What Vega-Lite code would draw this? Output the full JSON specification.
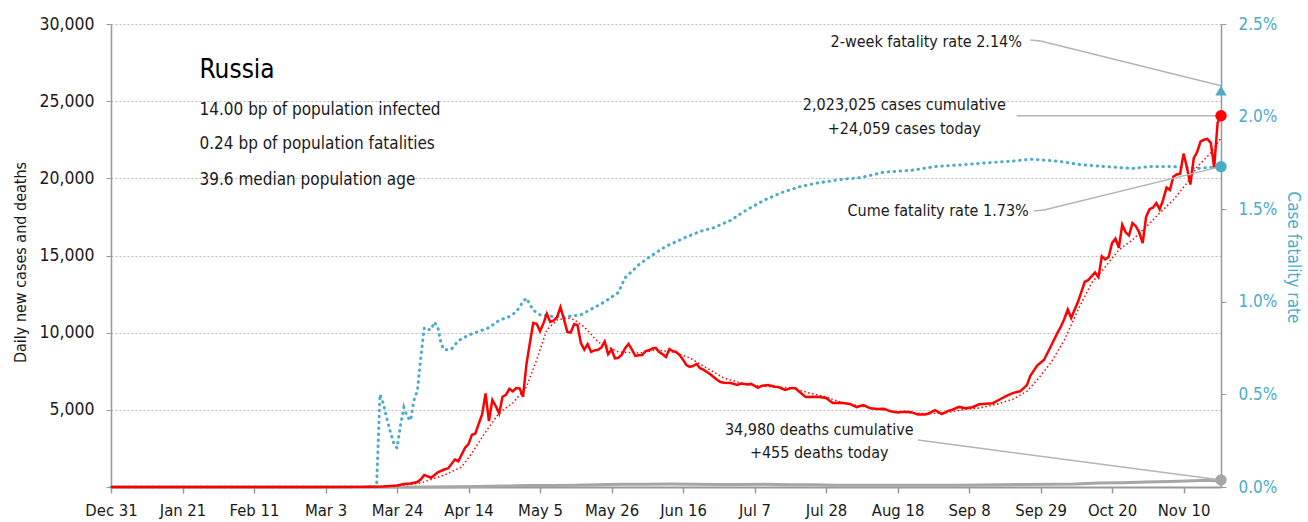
{
  "$schema": "https://vega.github.io/schema/vega-lite/v6.json",
  "width": 1110,
  "height": 463,
  "autosize": "none",
  "padding": {"left": 111, "top": 24, "right": 87, "bottom": 35},
  "background": "white",
  "config": {
    "font": "DejaVu Sans Condensed, sans-serif",
    "view": {"stroke": null},
    "axis": {"labelFont": "DejaVu Sans Condensed, sans-serif", "titleFont": "DejaVu Sans Condensed, sans-serif"}
  },
  "datasets": {
    "cases": [
      {"date": "2019-12-31", "cases": 0}, {"date": "2020-02-01", "cases": 0}, {"date": "2020-03-01", "cases": 0},
      {"date": "2020-03-15", "cases": 10}, {"date": "2020-03-20", "cases": 40}, {"date": "2020-03-22", "cases": 70},
      {"date": "2020-03-24", "cases": 100}, {"date": "2020-03-26", "cases": 190}, {"date": "2020-03-28", "cases": 230},
      {"date": "2020-03-30", "cases": 320}, {"date": "2020-03-31", "cases": 500}, {"date": "2020-04-01", "cases": 780},
      {"date": "2020-04-03", "cases": 600}, {"date": "2020-04-05", "cases": 950}, {"date": "2020-04-07", "cases": 1150},
      {"date": "2020-04-08", "cases": 1200}, {"date": "2020-04-10", "cases": 1780}, {"date": "2020-04-11", "cases": 1670},
      {"date": "2020-04-13", "cases": 2550}, {"date": "2020-04-14", "cases": 2780}, {"date": "2020-04-15", "cases": 3390},
      {"date": "2020-04-16", "cases": 3450}, {"date": "2020-04-17", "cases": 4100}, {"date": "2020-04-18", "cases": 4700},
      {"date": "2020-04-19", "cases": 6060}, {"date": "2020-04-20", "cases": 4270}, {"date": "2020-04-21", "cases": 5640},
      {"date": "2020-04-22", "cases": 5250}, {"date": "2020-04-23", "cases": 4770}, {"date": "2020-04-24", "cases": 5850},
      {"date": "2020-04-25", "cases": 5970}, {"date": "2020-04-26", "cases": 6360}, {"date": "2020-04-27", "cases": 6200},
      {"date": "2020-04-28", "cases": 6410}, {"date": "2020-04-29", "cases": 6390}, {"date": "2020-04-30", "cases": 5840},
      {"date": "2020-05-01", "cases": 7930}, {"date": "2020-05-02", "cases": 9300}, {"date": "2020-05-03", "cases": 10630},
      {"date": "2020-05-04", "cases": 10580}, {"date": "2020-05-05", "cases": 10100}, {"date": "2020-05-06", "cases": 10600},
      {"date": "2020-05-07", "cases": 11230}, {"date": "2020-05-08", "cases": 10700}, {"date": "2020-05-09", "cases": 10800},
      {"date": "2020-05-10", "cases": 11000}, {"date": "2020-05-11", "cases": 11650}, {"date": "2020-05-12", "cases": 10900},
      {"date": "2020-05-13", "cases": 10050}, {"date": "2020-05-14", "cases": 10000}, {"date": "2020-05-15", "cases": 10550},
      {"date": "2020-05-16", "cases": 10500}, {"date": "2020-05-17", "cases": 9330}, {"date": "2020-05-18", "cases": 8900},
      {"date": "2020-05-19", "cases": 9260}, {"date": "2020-05-20", "cases": 8760}, {"date": "2020-05-21", "cases": 8850},
      {"date": "2020-05-22", "cases": 8890}, {"date": "2020-05-23", "cases": 9030}, {"date": "2020-05-24", "cases": 9430},
      {"date": "2020-05-25", "cases": 8600}, {"date": "2020-05-26", "cases": 8900}, {"date": "2020-05-27", "cases": 8340},
      {"date": "2020-05-28", "cases": 8370}, {"date": "2020-05-29", "cases": 8570}, {"date": "2020-05-30", "cases": 9000},
      {"date": "2020-05-31", "cases": 9270}, {"date": "2020-06-01", "cases": 8900}, {"date": "2020-06-02", "cases": 8490},
      {"date": "2020-06-03", "cases": 8530}, {"date": "2020-06-04", "cases": 8550}, {"date": "2020-06-05", "cases": 8810},
      {"date": "2020-06-06", "cases": 8860}, {"date": "2020-06-07", "cases": 8980}, {"date": "2020-06-08", "cases": 9010},
      {"date": "2020-06-09", "cases": 8750}, {"date": "2020-06-10", "cases": 8600}, {"date": "2020-06-11", "cases": 8420},
      {"date": "2020-06-12", "cases": 8940}, {"date": "2020-06-13", "cases": 8800}, {"date": "2020-06-14", "cases": 8750},
      {"date": "2020-06-15", "cases": 8550}, {"date": "2020-06-16", "cases": 8250}, {"date": "2020-06-17", "cases": 7900},
      {"date": "2020-06-18", "cases": 7780}, {"date": "2020-06-19", "cases": 7850}, {"date": "2020-06-20", "cases": 7970},
      {"date": "2020-06-21", "cases": 7700}, {"date": "2020-06-22", "cases": 7600}, {"date": "2020-06-23", "cases": 7450},
      {"date": "2020-06-24", "cases": 7300}, {"date": "2020-06-25", "cases": 7130}, {"date": "2020-06-26", "cases": 6950},
      {"date": "2020-06-27", "cases": 6800}, {"date": "2020-06-28", "cases": 6750}, {"date": "2020-06-30", "cases": 6740},
      {"date": "2020-07-02", "cases": 6610}, {"date": "2020-07-03", "cases": 6700}, {"date": "2020-07-05", "cases": 6650},
      {"date": "2020-07-06", "cases": 6680}, {"date": "2020-07-08", "cases": 6420}, {"date": "2020-07-09", "cases": 6550},
      {"date": "2020-07-11", "cases": 6610}, {"date": "2020-07-13", "cases": 6500}, {"date": "2020-07-14", "cases": 6480},
      {"date": "2020-07-16", "cases": 6290}, {"date": "2020-07-18", "cases": 6420}, {"date": "2020-07-19", "cases": 6400},
      {"date": "2020-07-20", "cases": 6200}, {"date": "2020-07-22", "cases": 5830}, {"date": "2020-07-24", "cases": 5850},
      {"date": "2020-07-26", "cases": 5830}, {"date": "2020-07-28", "cases": 5770}, {"date": "2020-07-30", "cases": 5440},
      {"date": "2020-08-01", "cases": 5460}, {"date": "2020-08-02", "cases": 5440}, {"date": "2020-08-04", "cases": 5380},
      {"date": "2020-08-06", "cases": 5180}, {"date": "2020-08-08", "cases": 5310}, {"date": "2020-08-10", "cases": 5100},
      {"date": "2020-08-12", "cases": 5060}, {"date": "2020-08-14", "cases": 5070}, {"date": "2020-08-16", "cases": 4900},
      {"date": "2020-08-18", "cases": 4830}, {"date": "2020-08-20", "cases": 4870}, {"date": "2020-08-22", "cases": 4850},
      {"date": "2020-08-24", "cases": 4690}, {"date": "2020-08-26", "cases": 4700}, {"date": "2020-08-27", "cases": 4750},
      {"date": "2020-08-29", "cases": 4980}, {"date": "2020-08-31", "cases": 4730}, {"date": "2020-09-02", "cases": 4950},
      {"date": "2020-09-03", "cases": 4990}, {"date": "2020-09-05", "cases": 5190}, {"date": "2020-09-07", "cases": 5100},
      {"date": "2020-09-09", "cases": 5170}, {"date": "2020-09-11", "cases": 5360}, {"date": "2020-09-13", "cases": 5400},
      {"date": "2020-09-15", "cases": 5430}, {"date": "2020-09-17", "cases": 5670}, {"date": "2020-09-19", "cases": 5900},
      {"date": "2020-09-21", "cases": 6100}, {"date": "2020-09-23", "cases": 6200}, {"date": "2020-09-25", "cases": 6600},
      {"date": "2020-09-26", "cases": 7200}, {"date": "2020-09-28", "cases": 7870}, {"date": "2020-09-30", "cases": 8230},
      {"date": "2020-10-02", "cases": 9100}, {"date": "2020-10-04", "cases": 10000}, {"date": "2020-10-05", "cases": 10400},
      {"date": "2020-10-06", "cases": 10900}, {"date": "2020-10-07", "cases": 11500}, {"date": "2020-10-08", "cases": 10950},
      {"date": "2020-10-10", "cases": 12000}, {"date": "2020-10-12", "cases": 13300}, {"date": "2020-10-13", "cases": 13400},
      {"date": "2020-10-15", "cases": 13900}, {"date": "2020-10-16", "cases": 13600}, {"date": "2020-10-17", "cases": 14950},
      {"date": "2020-10-18", "cases": 14750}, {"date": "2020-10-19", "cases": 14900}, {"date": "2020-10-20", "cases": 15800},
      {"date": "2020-10-21", "cases": 16100}, {"date": "2020-10-22", "cases": 15500}, {"date": "2020-10-23", "cases": 17000},
      {"date": "2020-10-24", "cases": 16500}, {"date": "2020-10-25", "cases": 16300}, {"date": "2020-10-26", "cases": 17100},
      {"date": "2020-10-27", "cases": 16900}, {"date": "2020-10-28", "cases": 16500}, {"date": "2020-10-29", "cases": 15800},
      {"date": "2020-10-30", "cases": 17500}, {"date": "2020-10-31", "cases": 18000}, {"date": "2020-11-01", "cases": 18100},
      {"date": "2020-11-02", "cases": 18400}, {"date": "2020-11-03", "cases": 18000}, {"date": "2020-11-04", "cases": 18600},
      {"date": "2020-11-05", "cases": 19400}, {"date": "2020-11-06", "cases": 19250}, {"date": "2020-11-07", "cases": 20100},
      {"date": "2020-11-08", "cases": 20250}, {"date": "2020-11-09", "cases": 20300}, {"date": "2020-11-10", "cases": 21600},
      {"date": "2020-11-11", "cases": 20700}, {"date": "2020-11-12", "cases": 19600}, {"date": "2020-11-13", "cases": 21300},
      {"date": "2020-11-14", "cases": 21700}, {"date": "2020-11-15", "cases": 22400}, {"date": "2020-11-16", "cases": 22500},
      {"date": "2020-11-17", "cases": 22550}, {"date": "2020-11-18", "cases": 22300}, {"date": "2020-11-19", "cases": 20700},
      {"date": "2020-11-20", "cases": 23600}, {"date": "2020-11-21", "cases": 24059}
    ],
    "cases_avg": [
      {"date": "2019-12-31", "avg": 0}, {"date": "2020-03-20", "avg": 0}, {"date": "2020-03-24", "avg": 60},
      {"date": "2020-03-31", "avg": 260}, {"date": "2020-04-07", "avg": 780}, {"date": "2020-04-12", "avg": 1300},
      {"date": "2020-04-15", "avg": 2200}, {"date": "2020-04-19", "avg": 3560}, {"date": "2020-04-23", "avg": 4800},
      {"date": "2020-04-27", "avg": 5440}, {"date": "2020-05-01", "avg": 6480}, {"date": "2020-05-04", "avg": 8230},
      {"date": "2020-05-07", "avg": 10180}, {"date": "2020-05-10", "avg": 10820}, {"date": "2020-05-13", "avg": 10950},
      {"date": "2020-05-15", "avg": 10850}, {"date": "2020-05-18", "avg": 10370}, {"date": "2020-05-22", "avg": 9400},
      {"date": "2020-05-28", "avg": 8750}, {"date": "2020-06-03", "avg": 8680}, {"date": "2020-06-08", "avg": 8880},
      {"date": "2020-06-13", "avg": 8750}, {"date": "2020-06-18", "avg": 8360}, {"date": "2020-06-23", "avg": 7710},
      {"date": "2020-06-28", "avg": 7060}, {"date": "2020-07-03", "avg": 6740}, {"date": "2020-07-08", "avg": 6550},
      {"date": "2020-07-13", "avg": 6480}, {"date": "2020-07-18", "avg": 6420}, {"date": "2020-07-23", "avg": 6090},
      {"date": "2020-07-28", "avg": 5830}, {"date": "2020-08-02", "avg": 5440}, {"date": "2020-08-07", "avg": 5250},
      {"date": "2020-08-12", "avg": 5050}, {"date": "2020-08-17", "avg": 4900}, {"date": "2020-08-22", "avg": 4800},
      {"date": "2020-08-27", "avg": 4750}, {"date": "2020-09-01", "avg": 4800}, {"date": "2020-09-06", "avg": 5000},
      {"date": "2020-09-11", "avg": 5120}, {"date": "2020-09-16", "avg": 5350}, {"date": "2020-09-21", "avg": 5700},
      {"date": "2020-09-25", "avg": 6200}, {"date": "2020-09-28", "avg": 6930}, {"date": "2020-10-02", "avg": 8040},
      {"date": "2020-10-06", "avg": 9530}, {"date": "2020-10-10", "avg": 11470}, {"date": "2020-10-14", "avg": 13220},
      {"date": "2020-10-18", "avg": 14260}, {"date": "2020-10-22", "avg": 15360}, {"date": "2020-10-26", "avg": 16010},
      {"date": "2020-10-30", "avg": 16850}, {"date": "2020-11-03", "avg": 17760}, {"date": "2020-11-07", "avg": 18600},
      {"date": "2020-11-11", "avg": 19700}, {"date": "2020-11-14", "avg": 20740}, {"date": "2020-11-18", "avg": 21650},
      {"date": "2020-11-21", "avg": 22620}
    ],
    "deaths": [
      {"date": "2019-12-31", "deaths": 0}, {"date": "2020-03-20", "deaths": 0}, {"date": "2020-04-01", "deaths": 5},
      {"date": "2020-04-10", "deaths": 15}, {"date": "2020-04-17", "deaths": 40}, {"date": "2020-04-24", "deaths": 60},
      {"date": "2020-05-01", "deaths": 95}, {"date": "2020-05-08", "deaths": 100}, {"date": "2020-05-15", "deaths": 110},
      {"date": "2020-05-22", "deaths": 150}, {"date": "2020-05-29", "deaths": 180}, {"date": "2020-06-05", "deaths": 180},
      {"date": "2020-06-12", "deaths": 190}, {"date": "2020-06-19", "deaths": 180}, {"date": "2020-06-26", "deaths": 160},
      {"date": "2020-07-03", "deaths": 170}, {"date": "2020-07-10", "deaths": 180}, {"date": "2020-07-17", "deaths": 150},
      {"date": "2020-07-24", "deaths": 140}, {"date": "2020-07-31", "deaths": 110}, {"date": "2020-08-07", "deaths": 120},
      {"date": "2020-08-14", "deaths": 110}, {"date": "2020-08-21", "deaths": 120}, {"date": "2020-08-28", "deaths": 110},
      {"date": "2020-09-04", "deaths": 120}, {"date": "2020-09-11", "deaths": 130}, {"date": "2020-09-18", "deaths": 150},
      {"date": "2020-09-25", "deaths": 170}, {"date": "2020-10-02", "deaths": 180}, {"date": "2020-10-09", "deaths": 190},
      {"date": "2020-10-16", "deaths": 260}, {"date": "2020-10-23", "deaths": 280}, {"date": "2020-10-30", "deaths": 320},
      {"date": "2020-11-06", "deaths": 350}, {"date": "2020-11-13", "deaths": 400}, {"date": "2020-11-17", "deaths": 430},
      {"date": "2020-11-19", "deaths": 400}, {"date": "2020-11-21", "deaths": 455}
    ],
    "cfr": [
      {"date": "2019-12-31", "cfr": 0}, {"date": "2020-03-18", "cfr": 0}, {"date": "2020-03-19", "cfr": 0.5},
      {"date": "2020-03-20", "cfr": 0.45}, {"date": "2020-03-21", "cfr": 0.37}, {"date": "2020-03-22", "cfr": 0.3},
      {"date": "2020-03-23", "cfr": 0.24}, {"date": "2020-03-24", "cfr": 0.21}, {"date": "2020-03-25", "cfr": 0.33},
      {"date": "2020-03-26", "cfr": 0.43}, {"date": "2020-03-27", "cfr": 0.38}, {"date": "2020-03-28", "cfr": 0.36},
      {"date": "2020-03-29", "cfr": 0.47}, {"date": "2020-03-30", "cfr": 0.52}, {"date": "2020-03-31", "cfr": 0.7},
      {"date": "2020-04-01", "cfr": 0.86}, {"date": "2020-04-02", "cfr": 0.85}, {"date": "2020-04-03", "cfr": 0.85},
      {"date": "2020-04-04", "cfr": 0.89}, {"date": "2020-04-05", "cfr": 0.86}, {"date": "2020-04-06", "cfr": 0.77},
      {"date": "2020-04-07", "cfr": 0.74}, {"date": "2020-04-09", "cfr": 0.745}, {"date": "2020-04-11", "cfr": 0.79},
      {"date": "2020-04-14", "cfr": 0.82}, {"date": "2020-04-17", "cfr": 0.84}, {"date": "2020-04-20", "cfr": 0.86},
      {"date": "2020-04-23", "cfr": 0.9}, {"date": "2020-04-26", "cfr": 0.92}, {"date": "2020-04-28", "cfr": 0.945},
      {"date": "2020-04-30", "cfr": 1.0}, {"date": "2020-05-01", "cfr": 1.02}, {"date": "2020-05-03", "cfr": 0.955},
      {"date": "2020-05-05", "cfr": 0.93}, {"date": "2020-05-09", "cfr": 0.92}, {"date": "2020-05-13", "cfr": 0.92},
      {"date": "2020-05-17", "cfr": 0.93}, {"date": "2020-05-21", "cfr": 0.97}, {"date": "2020-05-24", "cfr": 1.0},
      {"date": "2020-05-28", "cfr": 1.05}, {"date": "2020-05-30", "cfr": 1.13}, {"date": "2020-06-03", "cfr": 1.2},
      {"date": "2020-06-06", "cfr": 1.24}, {"date": "2020-06-11", "cfr": 1.3}, {"date": "2020-06-17", "cfr": 1.35},
      {"date": "2020-06-21", "cfr": 1.38}, {"date": "2020-06-25", "cfr": 1.4}, {"date": "2020-06-30", "cfr": 1.44},
      {"date": "2020-07-05", "cfr": 1.5}, {"date": "2020-07-10", "cfr": 1.55}, {"date": "2020-07-15", "cfr": 1.59},
      {"date": "2020-07-20", "cfr": 1.62}, {"date": "2020-07-25", "cfr": 1.64}, {"date": "2020-08-01", "cfr": 1.66},
      {"date": "2020-08-07", "cfr": 1.67}, {"date": "2020-08-14", "cfr": 1.7}, {"date": "2020-08-22", "cfr": 1.71},
      {"date": "2020-08-29", "cfr": 1.73}, {"date": "2020-09-06", "cfr": 1.74}, {"date": "2020-09-13", "cfr": 1.75},
      {"date": "2020-09-21", "cfr": 1.76}, {"date": "2020-09-26", "cfr": 1.77}, {"date": "2020-10-04", "cfr": 1.76},
      {"date": "2020-10-11", "cfr": 1.74}, {"date": "2020-10-18", "cfr": 1.73}, {"date": "2020-10-26", "cfr": 1.72},
      {"date": "2020-10-31", "cfr": 1.73}, {"date": "2020-11-07", "cfr": 1.73}, {"date": "2020-11-14", "cfr": 1.72},
      {"date": "2020-11-21", "cfr": 1.73}
    ],
    "leaders": [
      {"date": "2020-09-26", "date2": "2020-09-29", "v": 28970, "v2": 28900},
      {"date": "2020-09-29", "date2": "2020-11-21", "v": 28900, "v2": 26000},
      {"date": "2020-09-22", "date2": "2020-11-21", "v": 24059, "v2": 24059},
      {"date": "2020-09-27", "date2": "2020-09-30", "v": 17885, "v2": 17950},
      {"date": "2020-09-30", "date2": "2020-11-21", "v": 17950, "v2": 20760},
      {"date": "2020-08-24", "date2": "2020-11-21", "v": 3045, "v2": 455}
    ],
    "info": [
      {"date": "2020-01-26", "v": 27020, "label": "Russia", "kind": "title"},
      {"date": "2020-01-26", "v": 24430, "label": "14.00 bp of population infected", "kind": "stat"},
      {"date": "2020-01-26", "v": 22225, "label": "0.24 bp of population fatalities", "kind": "stat"},
      {"date": "2020-01-26", "v": 19890, "label": "39.6 median population age", "kind": "stat"}
    ],
    "notes_right": [
      {"date": "2020-09-25", "v": 28840, "label": "2-week fatality rate 2.14%"},
      {"date": "2020-09-27", "v": 17885, "label": "Cume fatality rate 1.73%"}
    ],
    "notes_center": [
      {"date": "2020-08-20", "v": 24750, "label": "2,023,025 cases cumulative"},
      {"date": "2020-08-20", "v": 23200, "label": "+24,059 cases today"},
      {"date": "2020-07-26", "v": 3690, "label": "34,980 deaths cumulative"},
      {"date": "2020-07-26", "v": 2200, "label": "+455 deaths today"}
    ],
    "last_cases": [{"date": "2020-11-21", "v": 24059}],
    "last_deaths": [{"date": "2020-11-21", "v": 455}],
    "last_rates": [
      {"date": "2020-11-21", "rate": 1.73, "kind": "cume"},
      {"date": "2020-11-21", "rate": 2.14, "kind": "twoweek"}
    ]
  },
  "encoding": {
    "x": {
      "field": "date",
      "type": "temporal",
      "scale": {
        "type": "utc",
        "domain": [{"year": 2019, "month": 12, "date": 31, "utc": true}, {"year": 2020, "month": 11, "date": 21, "utc": true}]
      },
      "axis": {
        "title": null,
        "grid": false,
        "format": "%b %-d",
        "values": [
          {"year": 2019, "month": 12, "date": 31, "utc": true},
          {"year": 2020, "month": 1, "date": 21, "utc": true},
          {"year": 2020, "month": 2, "date": 11, "utc": true},
          {"year": 2020, "month": 3, "date": 3, "utc": true},
          {"year": 2020, "month": 3, "date": 24, "utc": true},
          {"year": 2020, "month": 4, "date": 14, "utc": true},
          {"year": 2020, "month": 5, "date": 5, "utc": true},
          {"year": 2020, "month": 5, "date": 26, "utc": true},
          {"year": 2020, "month": 6, "date": 16, "utc": true},
          {"year": 2020, "month": 7, "date": 7, "utc": true},
          {"year": 2020, "month": 7, "date": 28, "utc": true},
          {"year": 2020, "month": 8, "date": 18, "utc": true},
          {"year": 2020, "month": 9, "date": 8, "utc": true},
          {"year": 2020, "month": 9, "date": 29, "utc": true},
          {"year": 2020, "month": 10, "date": 20, "utc": true},
          {"year": 2020, "month": 11, "date": 10, "utc": true}
        ],
        "labelFontSize": 16.5,
        "labelColor": "#1a1a1a",
        "labelFlush": false,
        "labelOverlap": false,
        "labelPadding": 9,
        "tickSize": 6,
        "tickColor": "#999999",
        "tickWidth": 1.5,
        "domainColor": "#999999",
        "domainWidth": 2
      }
    }
  },
  "layer": [
    {
      "data": {"name": "cfr"},
      "mark": {"type": "line", "color": "#4bacc6", "strokeWidth": 3, "strokeDash": [0.5, 5.5], "strokeCap": "round"},
      "encoding": {
        "y": {
          "field": "cfr",
          "type": "quantitative",
          "scale": {"domain": [0, 2.5], "nice": false},
          "axis": {
            "orient": "right",
            "values": [0, 0.5, 1, 1.5, 2, 2.5],
            "labelExpr": "format(datum.value, '.1f') + '%'",
            "title": "Case fatality rate",
            "titleX": 71,
            "titleY": 233,
            "titleAngle": 90,
            "titleAlign": "center",
            "titleBaseline": "middle",
            "titleFontSize": 17,
            "titleFontWeight": "normal",
            "titleColor": "#4bacc6",
            "labelFontSize": 17,
            "labelColor": "#4bacc6",
            "labelFlush": false,
            "labelPadding": 12,
            "tickSize": 5,
            "tickColor": "#999999",
            "domainColor": "#999999",
            "domainWidth": 1.5,
            "grid": false
          }
        }
      }
    },
    {
      "data": {"name": "cases_avg"},
      "mark": {"type": "line", "color": "#ff0000", "strokeWidth": 1.5, "strokeDash": [1.5, 2.5]},
      "encoding": {
        "y": {
          "field": "avg",
          "type": "quantitative",
          "scale": {"domain": [0, 30000], "nice": false},
          "axis": {
            "orient": "left",
            "values": [0, 5000, 10000, 15000, 20000, 25000, 30000],
            "labelExpr": "datum.value == 0 ? '' : format(datum.value, ',')",
            "title": "Daily new cases and deaths",
            "titleX": -91,
            "titleY": 238,
            "titleAngle": -90,
            "titleAlign": "center",
            "titleBaseline": "middle",
            "titleFontSize": 16,
            "titleFontWeight": "normal",
            "titleColor": "#1a1a1a",
            "labelFontSize": 17.5,
            "labelColor": "#1a1a1a",
            "labelFlush": false,
            "labelPadding": 12,
            "tickSize": 5,
            "tickColor": "#999999",
            "domainColor": "#999999",
            "domainWidth": 1.5,
            "grid": true,
            "gridColor": "#bbbbbb",
            "gridDash": [2, 2],
            "gridWidth": 1
          }
        }
      }
    },
    {
      "data": {"name": "deaths"},
      "mark": {"type": "line", "color": "#a6a6a6", "strokeWidth": 3},
      "encoding": {"y": {"field": "deaths", "type": "quantitative", "scale": {"domain": [0, 30000], "nice": false}, "axis": null}}
    },
    {
      "data": {"name": "cases"},
      "mark": {"type": "line", "color": "#ff0000", "strokeWidth": 2.5},
      "encoding": {"y": {"field": "cases", "type": "quantitative", "scale": {"domain": [0, 30000], "nice": false}, "axis": null}}
    },
    {
      "data": {"name": "leaders"},
      "mark": {"type": "rule", "color": "#b4b4b4", "strokeWidth": 1.5},
      "encoding": {
        "x2": {"field": "date2"},
        "y": {"field": "v", "type": "quantitative", "scale": {"domain": [0, 30000], "nice": false}, "axis": null},
        "y2": {"field": "v2"}
      }
    },
    {
      "data": {"name": "info"},
      "transform": [{"filter": "datum.kind == 'title'"}],
      "mark": {"type": "text", "align": "left", "baseline": "middle", "fontSize": 26, "color": "#000000"},
      "encoding": {
        "y": {"field": "v", "type": "quantitative", "scale": {"domain": [0, 30000], "nice": false}, "axis": null},
        "text": {"field": "label"}
      }
    },
    {
      "data": {"name": "info"},
      "transform": [{"filter": "datum.kind == 'stat'"}],
      "mark": {"type": "text", "align": "left", "baseline": "middle", "fontSize": 17, "color": "#1a1a1a"},
      "encoding": {
        "y": {"field": "v", "type": "quantitative", "scale": {"domain": [0, 30000], "nice": false}, "axis": null},
        "text": {"field": "label"}
      }
    },
    {
      "data": {"name": "notes_right"},
      "mark": {"type": "text", "align": "right", "baseline": "middle", "fontSize": 16, "dx": -5, "color": "#1a1a1a"},
      "encoding": {
        "y": {"field": "v", "type": "quantitative", "scale": {"domain": [0, 30000], "nice": false}, "axis": null},
        "text": {"field": "label"}
      }
    },
    {
      "data": {"name": "notes_center"},
      "mark": {"type": "text", "align": "center", "baseline": "middle", "fontSize": 16, "color": "#1a1a1a"},
      "encoding": {
        "y": {"field": "v", "type": "quantitative", "scale": {"domain": [0, 30000], "nice": false}, "axis": null},
        "text": {"field": "label"}
      }
    },
    {
      "data": {"name": "last_cases"},
      "mark": {"type": "point", "shape": "circle", "filled": true, "size": 130, "color": "#ff0000", "opacity": 1},
      "encoding": {"y": {"field": "v", "type": "quantitative", "scale": {"domain": [0, 30000], "nice": false}, "axis": null}}
    },
    {
      "data": {"name": "last_deaths"},
      "mark": {"type": "point", "shape": "circle", "filled": true, "size": 130, "color": "#a6a6a6", "opacity": 1},
      "encoding": {"y": {"field": "v", "type": "quantitative", "scale": {"domain": [0, 30000], "nice": false}, "axis": null}}
    },
    {
      "data": {"name": "last_rates"},
      "mark": {"type": "point", "filled": true, "size": 130, "color": "#4bacc6", "opacity": 1},
      "encoding": {
        "y": {"field": "rate", "type": "quantitative", "scale": {"domain": [0, 2.5], "nice": false}, "axis": null},
        "shape": {"field": "kind", "type": "nominal", "scale": {"domain": ["cume", "twoweek"], "range": ["circle", "triangle-up"]}, "legend": null}
      }
    }
  ],
  "resolve": {"scale": {"y": "independent"}}
}
